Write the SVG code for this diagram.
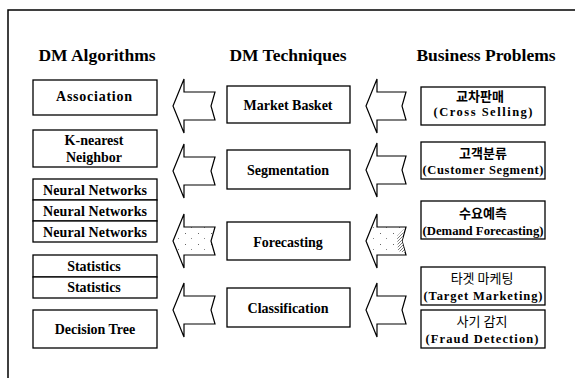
<svg xmlns="http://www.w3.org/2000/svg" width="575" height="378" viewBox="0 0 575 378">
<style>
  .frame { stroke: #000; stroke-width: 1.5; fill: none; }
  .box { fill: #fff; stroke: #000; stroke-width: 1.3; }
  .arrow { fill: #fff; stroke: #000; stroke-width: 1.2; stroke-linejoin: miter; }
  .speckle { fill: url(#speck); stroke: #000; stroke-width: 1.2; }
  text { font-family: 'Liberation Serif', 'DejaVu Serif', serif; font-weight: bold; fill: #000; text-anchor: middle; }
  .hdr { font-size: 17.5px; }
  .lbl { font-size: 14px; }
  .en { font-size: 12.5px; }
  .ko { font-family: 'Noto Sans CJK KR', 'Noto Sans CJK SC', sans-serif; font-weight: bold; font-size: 13px; }
  .ko.reg { font-weight: normal; }
</style>
<defs>
  <pattern id="speck" width="13" height="11" patternUnits="userSpaceOnUse">
    <rect width="13" height="11" fill="#fff"/>
    <rect x="3" y="2" width="1" height="1" fill="#666"/>
    <rect x="9" y="7" width="1" height="1" fill="#888"/>
  </pattern>
  <pattern id="hatch" width="3" height="3" patternUnits="userSpaceOnUse">
    <rect width="3" height="3" fill="#fff"/>
    <path d="M0,3 L3,0" stroke="#444" stroke-width="0.7"/>
  </pattern>
</defs>
<rect width="575" height="378" fill="#fff"/>
<g id="frame">
  <path class="frame" d="M8,378 L8,10 L575,10"/>
</g>
<g id="headers">
  <text class="hdr" x="97" y="61">DM Algorithms</text>
  <text class="hdr" x="288" y="61">DM Techniques</text>
  <text class="hdr" x="486" y="61">Business Problems</text>
</g>
<g id="connectors">
  <path class="arrow" d="M173,106 L184,79 L184,92 L215,92 L211,106 L215,120 L184,120 L184,133 Z"/>
  <path class="arrow" d="M173,171 L184,144 L184,157 L215,157 L211,171 L215,185 L184,185 L184,198 Z"/>
  <path class="speckle" d="M173,241 L184,214 L184,227 L215,227 L211,241 L215,255 L184,255 L184,268 Z"/>
  <path class="arrow" d="M173,310 L184,283 L184,296 L215,296 L211,310 L215,324 L184,324 L184,337 Z"/>
  <path class="arrow" d="M366,106 L377,79 L377,92 L406,92 L402,106 L406,120 L377,120 L377,133 Z"/>
  <path class="arrow" d="M366,170 L377,143 L377,156 L406,156 L402,170 L406,184 L377,184 L377,197 Z"/>
  <path class="speckle" d="M366,241 L377,214 L377,227 L406,227 L402,241 L406,255 L377,255 L377,268 Z"/>
  <path d="M397,236 L404,229 L402,241 L405,253 L398,251 Z" fill="url(#hatch)" stroke="none"/>
  <path class="arrow" d="M366,310 L377,283 L377,296 L406,296 L402,310 L406,324 L377,324 L377,337 Z"/>
</g>
<g id="association">
  <rect class="box" x="33" y="80" width="124" height="35"/>
  <text class="lbl" x="94" y="101" textLength="76" lengthAdjust="spacing">Association</text>
</g>
<g id="knn">
  <rect class="box" x="33" y="130" width="124" height="37"/>
  <text class="lbl" x="94" y="145">K-nearest</text>
  <text class="lbl" x="94" y="162">Neighbor</text>
</g>
<g id="nn1">
  <rect class="box" x="33" y="179" width="124" height="21"/>
  <text class="lbl" x="95" y="195" textLength="104" lengthAdjust="spacing">Neural Networks</text>
</g>
<g id="nn2">
  <rect class="box" x="33" y="200" width="124" height="21"/>
  <text class="lbl" x="95" y="216" textLength="104" lengthAdjust="spacing">Neural Networks</text>
</g>
<g id="nn3">
  <rect class="box" x="33" y="221" width="124" height="21"/>
  <text class="lbl" x="95" y="237" textLength="104" lengthAdjust="spacing">Neural Networks</text>
</g>
<g id="stat1">
  <rect class="box" x="33" y="255" width="124" height="22"/>
  <text class="lbl" x="94" y="271">Statistics</text>
</g>
<g id="stat2">
  <rect class="box" x="33" y="277" width="124" height="21"/>
  <text class="lbl" x="94" y="292">Statistics</text>
</g>
<g id="dtree">
  <rect class="box" x="33" y="310" width="124" height="38"/>
  <text class="lbl" x="95" y="334">Decision Tree</text>
</g>
<g id="market-basket">
  <rect class="box" x="227" y="86" width="123" height="37"/>
  <text class="lbl" x="288" y="110">Market Basket</text>
</g>
<g id="segmentation">
  <rect class="box" x="227" y="150" width="123" height="39"/>
  <text class="lbl" x="288" y="175" textLength="82" lengthAdjust="spacingAndGlyphs">Segmentation</text>
</g>
<g id="forecasting">
  <rect class="box" x="227" y="222" width="123" height="38"/>
  <text class="lbl" x="288" y="247">Forecasting</text>
</g>
<g id="classification">
  <rect class="box" x="227" y="288" width="123" height="39"/>
  <text class="lbl" x="288" y="313">Classification</text>
</g>
<g id="cross-selling">
  <rect class="box" x="421" y="87" width="124" height="38"/>
  <text class="ko" x="480" y="101">교차판매</text>
  <text class="en" x="483" y="116" textLength="99" lengthAdjust="spacing">(Cross Selling)</text>
</g>
<g id="customer-segment">
  <rect class="box" x="421" y="142" width="124" height="37"/>
  <text class="ko" x="483" y="158">고객분류</text>
  <text class="en" x="483" y="174" textLength="121" lengthAdjust="spacing">(Customer Segment)</text>
</g>
<g id="demand-forecasting">
  <rect class="box" x="421" y="201" width="124" height="38"/>
  <text class="ko" x="483" y="218">수요예측</text>
  <text class="en" x="483" y="235" textLength="121" lengthAdjust="spacingAndGlyphs">(Demand Forecasting)</text>
</g>
<g id="target-marketing">
  <rect class="box" x="421" y="267" width="124" height="38"/>
  <text class="ko reg" x="482" y="283">타겟 마케팅</text>
  <text class="en" x="483" y="300" textLength="119" lengthAdjust="spacing">(Target Marketing)</text>
</g>
<g id="fraud-detection">
  <rect class="box" x="421" y="310" width="124" height="38"/>
  <text class="ko reg" x="482" y="326">사기 감지</text>
  <text class="en" x="482" y="343" textLength="113" lengthAdjust="spacing">(Fraud Detection)</text>
</g>
</svg>
